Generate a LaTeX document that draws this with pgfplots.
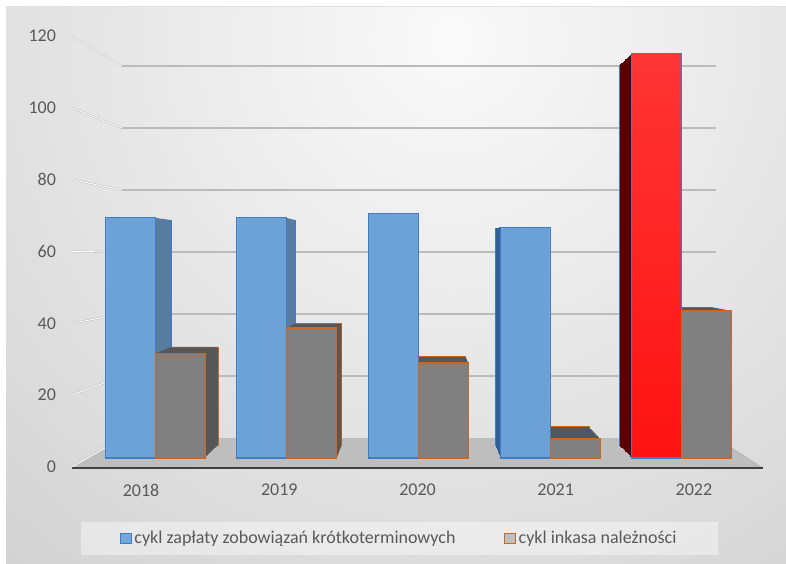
\documentclass[border=0pt]{standalone}
\usepackage{pgfplots}
\pgfplotsset{compat=1.18}
\usepackage{pgfplotstable}
\usepackage{fontspec}
\setmainfont{Carlito}

\definecolor{txt}{HTML}{595959}
\definecolor{bluefront}{HTML}{6FA5DA}
\definecolor{blueedge}{HTML}{3D7CC9}
\definecolor{blueside}{HTML}{587BA0}
\definecolor{bluesideL}{HTML}{2F5F95}
\definecolor{grayfront}{HTML}{808080}
\definecolor{graytop}{HTML}{575757}
\definecolor{orangeedge}{HTML}{D0661C}
\definecolor{redtop}{HTML}{FF3535}
\definecolor{redbot}{HTML}{FF1212}
\definecolor{redside}{HTML}{5C0000}
\definecolor{floorgray}{HTML}{BEBEBE}
\definecolor{gridgray}{HTML}{BBBBBB}

% cycle lengths (days): payables and receivables
\pgfplotstableread{
x pay col
0 70.0 30.6
1 70.0 37.9
2 71.3 27.7
3 67.3 5.8
4 118.0 42.9
}\cycles

\pgfplotsset{
  layer/.style={scale only axis, anchor=south west,
    xmin=-0.5, xmax=4.5, ymin=0, ymax=120,
    axis line style={draw=none}, tick style={draw=none},
    xtick=\empty, ytick=\empty, clip=false},
  lbl/.style={font=\fontsize{13.5}{16}\selectfont, text=txt},
}

\begin{document}
\begin{tikzpicture}
% ---------- background, floor and walls (pixel grid) ----------
\begin{scope}[x=0.75pt,y=-0.75pt]
  \fill[white] (0,0) rectangle (786,564);
  \begin{scope}
    \clip (6,6) rectangle (786,564);
    \shade[inner color=black!2, outer color=black!31] (450,40) circle (1300);
  \end{scope}
  \draw[black!12] (6,6) -- (786,6);
  \fill[floorgray] (72,468) -- (122,438) -- (716,438) -- (763,468) -- cycle;
  \draw[black!30] (716,438) -- (763,468);
  \foreach \v in {0,20,...,120}
    \draw[black!28, double=white, double distance=0.7pt, line width=0.35pt]
      (72,{467-3.5917*\v}) -- (122,{438-3.1*\v});
  \foreach \v in {20,40,...,120}
    \draw[gridgray, line width=1pt] (122,{438-3.1*\v}) -- (716,{438-3.1*\v});
  \draw[black!75, line width=1.8pt] (72,468) -- (763,468);
\end{scope}

% ---------- back faces of the columns ----------
\begin{axis}[layer, ybar, width=463.7pt, height=289.9pt, at={(82.0pt,-334.05pt)},
  bar width=35.2pt]
  \addplot[fill=blueside, draw=blueedge, bar shift=-17.6pt, restrict x to domain=0:2]
    table[x=x, y=pay] {\cycles};
  \addplot[fill=bluesideL, draw=blueedge, bar shift=-17.6pt, restrict x to domain=3:3]
    table[x=x, y=pay] {\cycles};
  \addplot[fill=redside, draw=blueedge, bar shift=-17.6pt, restrict x to domain=4:4]
    table[x=x, y=pay] {\cycles};
  \addplot[fill=graytop, draw=orangeedge, bar shift=17.6pt]
    table[x=x, y=col] {\cycles};
\end{axis}

% ---------- column depth: slices between back and front faces ----------
\foreach \s in {0.945,0.951,0.957,0.963,0.969,0.975,0.981,0.987,0.993} {
  \pgfmathsetmacro\L{0.75*(419-\s*329.8)}
  \pgfmathsetmacro\B{0.75*(252+\s*206)}
  \pgfmathsetmacro\W{0.75*658.5*\s}
  \pgfmathsetmacro\H{0.75*411.6*\s}
  \pgfmathsetmacro\BW{37.5*\s}
  \pgfmathsetmacro\SH{18.75*\s}
  \begin{axis}[layer, ybar, width=\W pt, height=\H pt, at={(\L pt,-\B pt)},
    bar width=\BW pt]
    \addplot[fill=blueside, draw=none, bar shift=-\SH pt, restrict x to domain=0:2]
      table[x=x, y=pay] {\cycles};
    \addplot[fill=bluesideL, draw=none, bar shift=-\SH pt, restrict x to domain=3:3]
      table[x=x, y=pay] {\cycles};
    \addplot[fill=redside, draw=none, bar shift=-\SH pt, restrict x to domain=4:4]
      table[x=x, y=pay] {\cycles};
    \addplot[fill=graytop, draw=none, bar shift=\SH pt]
      table[x=x, y=col] {\cycles};
  \end{axis}
}

% ---------- front faces of the columns ----------
\begin{axis}[layer, ybar, width=493.9pt, height=308.7pt, at={(66.9pt,-343.5pt)},
  bar width=37.5pt,
  legend columns=2,
  legend image code/.code={\draw[#1, line width=0.9pt] (0pt,-4pt) rectangle (8pt,4pt);},
  legend style={at={(0.4712,-0.1956)}, anchor=center, draw=none,
    fill=white, fill opacity=0.4, text opacity=1, lbl,
    inner xsep=29pt, inner ysep=5pt,
    /tikz/every even column/.append style={column sep=34.5pt}},
  ]
  \addplot[fill=bluefront, fill opacity=0.95, draw=blueedge, line width=0.8pt,
    bar shift=-18.75pt, restrict x to domain=0:3]
    table[x=x, y=pay] {\cycles};
  \addlegendentry{cykl zapłaty zobowiązań krótkoterminowych}
  \addplot[top color=redtop, bottom color=redbot, draw=blueedge, line width=0.8pt,
    bar shift=-18.75pt, restrict x to domain=4:4, forget plot]
    table[x=x, y=pay] {\cycles};
  \addplot[fill=grayfront, draw=orangeedge, line width=0.8pt, bar shift=18.75pt]
    table[x=x, y=col] {\cycles};
  \addlegendentry{cykl inkasa należności}
\end{axis}

% ---------- front scale and category labels ----------
\begin{axis}[layer, width=518.25pt, height=323.25pt, at={(54pt,-350.25pt)},
  xtick={0,...,4}, xticklabels={2018,2019,2020,2021,2022},
  ytick={0,20,...,120},
  /pgf/number format/assume math mode=true,
  tick label style={lbl},
  xticklabel style={yshift=-9pt},
  yticklabel style={xshift=-8.5pt},
  ]
  \addplot[draw=none] coordinates {(0,0)};
\end{axis}

\pgfresetboundingbox
\useasboundingbox (0,0) rectangle (589.5pt,-423pt);
\end{tikzpicture}
\end{document}
